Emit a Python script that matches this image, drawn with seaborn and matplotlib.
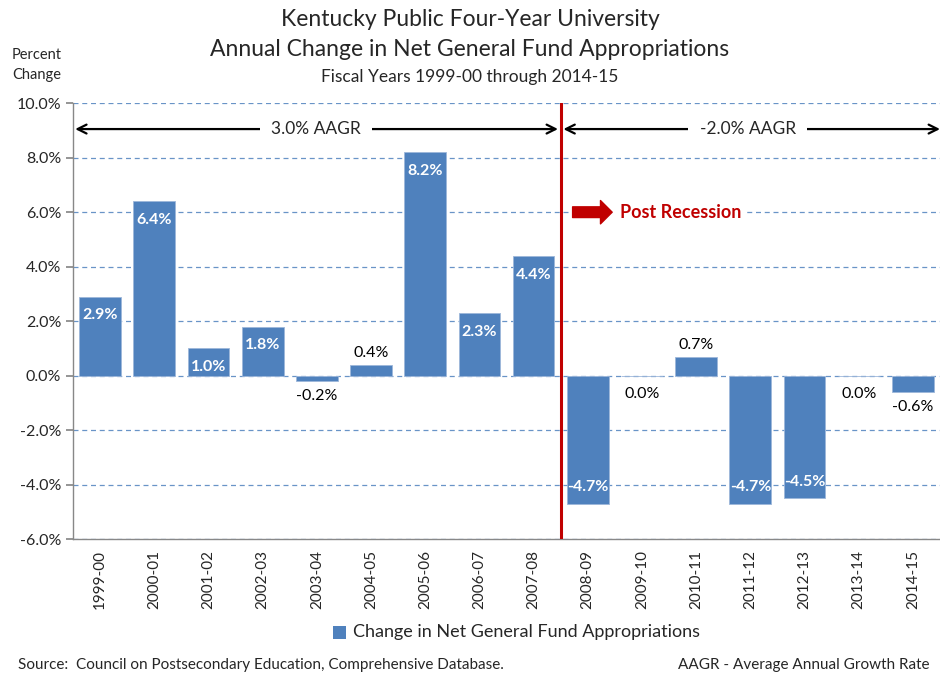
"""
Kentucky public four-year university: annual change in net general fund appropriations
"""
import matplotlib
matplotlib.use("Agg")
import matplotlib.pyplot as plt
import seaborn as sns
import pandas as pd
from matplotlib.patches import Rectangle

years = ["1999-00", "2000-01", "2001-02", "2002-03", "2003-04", "2004-05",
         "2005-06", "2006-07", "2007-08", "2008-09", "2009-10", "2010-11",
         "2011-12", "2012-13", "2013-14", "2014-15"]
change_pct = [2.9, 6.4, 1.0, 1.8, -0.2, 0.4, 8.2, 2.3, 4.4,
              -4.7, 0.0, 0.7, -4.7, -4.5, 0.0, -0.6]
y_ticks = [-6, -4, -2, 0, 2, 4, 6, 8, 10]
aagr_labels = ["3.0% AAGR", "-2.0% AAGR"]

BLUE = "#4F81BD"
RED = "#C00000"

sns.set_theme(style="white")
plt.rcParams["font.family"] = ["Lato", "DejaVu Sans"]

df = pd.DataFrame({"year": years, "pct": change_pct})

fig = plt.figure(figsize=(9.4, 6.77), dpi=100)
ax = fig.add_axes([73 / 940, 0.2035, 1 - 73 / 940, 0.6441])

for t in y_ticks:
    ax.axhline(t, color=BLUE, lw=0.9, ls=(0, (4, 3)), alpha=0.85, zorder=0)

sns.barplot(data=df, x="year", y="pct", color=BLUE, saturation=1,
            width=0.77, edgecolor="#9DB7DA", linewidth=0.6, ax=ax, zorder=2)

ax.set_ylim(-6, 10)
ax.set_xlim(-0.5, len(years) - 0.5)
ax.set_yticks(y_ticks)
ax.set_yticklabels([f"{t:.1f}%" for t in y_ticks], fontsize=11.5)
ax.tick_params(axis="y", length=5, color="#888888", direction="out", left=True)
ax.tick_params(axis="x", length=0, labelsize=11, pad=8)
plt.setp(ax.get_xticklabels(), rotation=90)
ax.set_xlabel("")
ax.set_ylabel("")
for s in ["top", "right"]:
    ax.spines[s].set_visible(False)
for s in ["left", "bottom"]:
    ax.spines[s].set_color("#888888")
    ax.spines[s].set_linewidth(1)

# bar value labels
for i, v in enumerate(change_pct):
    txt = f"{v:.1f}%"
    if abs(v) >= 1:
        off = -13.5 if v > 0 else 12
        ax.annotate(txt, (i, v), xytext=(0, off), textcoords="offset points",
                    ha="center", va="center", color="white",
                    fontsize=11.5, fontweight="bold", zorder=4)
    elif v > 0:
        ax.annotate(txt, (i, v), xytext=(0, 8.5), textcoords="offset points",
                    ha="center", va="center", color="black", fontsize=11.5, zorder=4)
    else:
        off = -13 if v == 0 else -11
        ax.annotate(txt, (i, v), xytext=(0, off), textcoords="offset points",
                    ha="center", va="center", color="black", fontsize=11.5, zorder=4)

# recession divider
split = 8.5
ax.axvline(split, color=RED, lw=2.2, zorder=5)

# AAGR span arrows
arrow_y = 9.05
ax.annotate("", xy=(-0.46, arrow_y), xytext=(split - 0.05, arrow_y),
            arrowprops=dict(arrowstyle="<->", lw=1.6, color="black",
                            mutation_scale=16, shrinkA=0, shrinkB=0), zorder=6)
ax.annotate("", xy=(split + 0.05, arrow_y), xytext=(len(years) - 0.5, arrow_y),
            arrowprops=dict(arrowstyle="<->", lw=1.6, color="black",
                            mutation_scale=16, shrinkA=0, shrinkB=0), zorder=6)
ax.text(3.98, arrow_y, aagr_labels[0], ha="center", va="center", fontsize=12.5,
        bbox=dict(facecolor="white", edgecolor="none", pad=8), zorder=7)
ax.text(11.95, arrow_y, aagr_labels[1], ha="center", va="center", fontsize=12.5,
        bbox=dict(facecolor="white", edgecolor="none", pad=8), zorder=7)

# post recession marker
ax.annotate("", xy=(9.45, 6.0), xytext=(8.72, 6.0),
            arrowprops=dict(arrowstyle="simple,head_width=1.2,head_length=0.6,tail_width=0.55",
                            color=RED, mutation_scale=14, shrinkA=0, shrinkB=0), zorder=6)
ax.text(9.6, 6.0, "Post Recession", ha="left", va="center", color=RED,
        fontsize=13, fontweight="bold",
        bbox=dict(facecolor="white", edgecolor="none", pad=3), zorder=7)

# titles
fig.text(0.5, 1 - 20 / 677, "Kentucky Public Four-Year University",
         ha="center", va="center", fontsize=16.5)
fig.text(0.5, 1 - 50 / 677, "Annual Change in Net General Fund Appropriations",
         ha="center", va="center", fontsize=16.5)
fig.text(0.5, 1 - 77 / 677, "Fiscal Years 1999-00 through 2014-15",
         ha="center", va="center", fontsize=12.5)
fig.text(37 / 940, 1 - 65 / 677, "Percent\nChange", ha="center", va="center",
         fontsize=10.5, linespacing=1.5)

# legend
fig.patches.append(Rectangle((333 / 940, 1 - 639 / 677), 13 / 940, 13 / 677,
                             transform=fig.transFigure, facecolor=BLUE,
                             edgecolor="none"))
fig.text(353 / 940, 1 - 632 / 677, "Change in Net General Fund Appropriations",
         ha="left", va="center", fontsize=13)

# footnotes
fig.text(18 / 940, 1 - 665 / 677,
         "Source:  Council on Postsecondary Education, Comprehensive Database.",
         ha="left", va="center", fontsize=11)
fig.text(930 / 940, 1 - 665 / 677, "AAGR - Average Annual Growth Rate",
         ha="right", va="center", fontsize=11)

fig.savefig("out.png", dpi=100)
